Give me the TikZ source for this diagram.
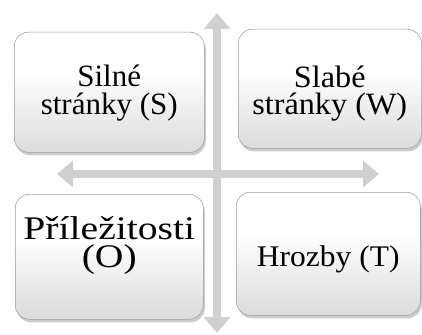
\documentclass[tikz,border=0pt]{standalone}
\usepackage{fontspec}
\setmainfont{Liberation Serif}
\newfontfamily\fontwideO[FakeStretch=1.2]{Liberation Serif}
\newfontfamily\fontwideW[FakeStretch=1.04]{Liberation Serif}
\newfontfamily\fontwideT[FakeStretch=1.05]{Liberation Serif}
\usetikzlibrary{arrows.meta,shadows,shadings}
\definecolor{axisgray}{HTML}{D0D0D0}
\definecolor{boxedge}{HTML}{9A9A9A}
\pgfdeclareverticalshading{quadfill}{100bp}{%
  color(0bp)=(black!22); color(30bp)=(black!12); color(58bp)=(white);
  color(100bp)=(white)}
\begin{document}
\begin{tikzpicture}[x=1pt,y=-1pt,
  axis/.style={draw=axisgray,line width=8pt,
    {Triangle[width=26pt,length=16pt]}-{Triangle[width=26pt,length=16pt]}},
  swotbox/.style={rectangle,rounded corners=14pt,anchor=north west,
    shading=quadfill,draw=boxedge,line width=0.5pt,
    drop shadow={shadow xshift=1.5pt,shadow yshift=-3pt,opacity=0.4}},
  swottext/.style={align=center,inner sep=0pt}]
  \useasboundingbox (0,0) rectangle (422,334);
  % axes
  \coordinate (vtop) at (217,13);
  \coordinate (vbot) at (217,333);
  \coordinate (hleft) at (57,174);
  \coordinate (hright) at (379,174);
  \draw[axis] (vbot) -- (vtop);
  \draw[axis] (hright) -- (hleft);
  % quadrant boxes
  \node[swotbox,minimum width=190pt,minimum height=120pt] (s) at (14,32) {};
  \node[swotbox,minimum width=183pt,minimum height=119pt] (w) at (238,29) {};
  \node[swotbox,minimum width=188pt,minimum height=125pt] (o) at (15,194) {};
  \node[swotbox,minimum width=184pt,minimum height=123pt] (t) at (236,192) {};
  % quadrant texts
  \node[swottext,font=\fontsize{31}{28}\selectfont] (s-text)
    at ([yshift=-1pt]s.center) {Silné\\stránky (S)};
  \node[swottext,font=\fontwideW\fontsize{31}{27}\selectfont] (w-text)
    at ([yshift=-5pt]w.center) {Slabé\\stránky (W)};
  \node[swottext,font=\fontwideO\fontsize{33}{28}\selectfont] (o-text)
    at ([yshift=11pt]o.center) {Příležitosti\\(O)};
  \node[swottext,font=\fontwideT\fontsize{30}{28}\selectfont] (t-text)
    at ([yshift=-6pt]t.center) {Hrozby (T)};
\end{tikzpicture}
\end{document}
